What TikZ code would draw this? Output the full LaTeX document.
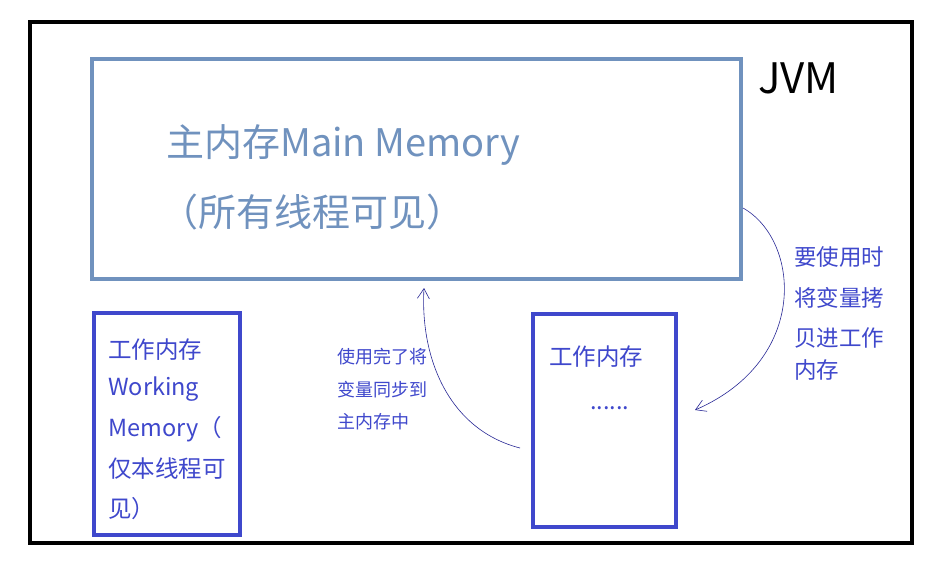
\documentclass[tikz,border=0pt]{standalone}
\usepackage{fontspec}
\setmainfont{Noto Sans CJK SC}
\usetikzlibrary{arrows.meta}
\definecolor{mainc}{RGB}{112,146,190}
\definecolor{workc}{RGB}{63,72,204}
\definecolor{arrc}{RGB}{40,40,150}
\begin{document}
\begin{tikzpicture}[x=1pt,y=-1pt,
  big/.style={font=\fontsize{38}{44}\selectfont,text=mainc,anchor=west,inner sep=0},
  wk/.style={font=\fontsize{23.5}{28}\selectfont,text=workc,anchor=west,inner sep=0},
  note/.style={font=\fontsize{18}{22}\selectfont,text=workc,anchor=west,inner sep=0},
  rnote/.style={font=\fontsize{22.5}{27}\selectfont,text=workc,anchor=west,inner sep=0},
  conn/.style={arrc,line width=0.6pt,-{Straight Barb[length=10pt,width=12pt]}}]
\useasboundingbox[fill=white] (0,0) rectangle (941,566);
\draw[line width=4pt] (30,22) rectangle (912,543);
\node[draw=mainc,line width=4pt,minimum width=649,minimum height=220,anchor=north west,inner sep=0] (main) at (90,57) {};
\node[big] (t1) at (166,145) {主内存Main Memory};
\node[big] (t2) at (160,212) {（所有线程可见）};
\node[font=\fontsize{42}{48}\selectfont,anchor=west,inner sep=0] (jvm) at (758,78) {JVM};
\node[draw=workc,line width=4pt,minimum width=146,minimum height=222,anchor=north west,inner sep=0] (w1) at (92,311) {};
\node[wk] (a1) at (108,350) {工作内存};
\node[wk] (a2) at (108,389) {Working};
\node[wk] (a3) at (108,429) {Memory（};
\node[wk] (a4) at (108,469) {仅本线程可};
\node[wk] (a5) at (108,509) {见）};
\node[draw=workc,line width=4pt,minimum width=143,minimum height=213,anchor=north west,inner sep=0] (w2) at (531,312) {};
\node[wk] (b1) at (549,357) {工作内存};
\node[wk] (b2) at (590,408) {......};
\node[rnote] (r1) at (794,257) {要使用时};
\node[rnote] (r2) at (794,298) {将变量拷};
\node[rnote] (r3) at (794,338) {贝进工作};
\node[rnote] (r4) at (794,370) {内存};
\node[note] (m1) at (337,357) {使用完了将};
\node[note] (m2) at (337,390) {变量同步到};
\node[note] (m3) at (337,422) {主内存中};
\coordinate (s1) at (743,208);
\coordinate (e1) at (695,410);
\coordinate (s2) at (520,448);
\coordinate (e2) at (424,288);
\draw[conn] (s1) .. controls (800,240) and (810,360) .. (e1);
\draw[conn] (s2) .. controls (450,430) and (420,360) .. (e2);
\end{tikzpicture}
\end{document}
